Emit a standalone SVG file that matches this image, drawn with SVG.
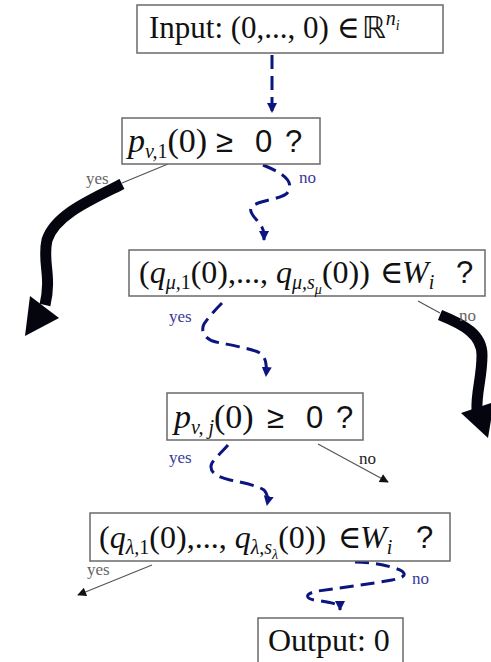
<svg xmlns="http://www.w3.org/2000/svg" width="491" height="662" viewBox="0 0 491 662">
<defs>
<style>
.box{fill:#fff;stroke:#6a6a6a;stroke-width:1.5}
.t{font-family:"Liberation Serif","DejaVu Serif",serif;fill:#111}
.s{font-family:"Liberation Sans","DejaVu Sans",sans-serif}
.i{font-style:italic}
.dash{fill:none;stroke:#0b1580;stroke-width:3;stroke-dasharray:14 7;stroke-linecap:butt}
.thin{fill:none;stroke:#555;stroke-width:1.2}
.thick{fill:none;stroke:#05050f;stroke-width:11;stroke-linecap:butt}
.lblb{font-family:"Liberation Serif",serif;font-size:17px;fill:#3a3a9a}
.lblg{font-family:"Liberation Serif",serif;font-size:17px;fill:#666}
.lblk{font-family:"Liberation Serif",serif;font-size:17px;fill:#222}
</style>
<marker id="an" viewBox="0 0 10 10" refX="9" refY="5" markerWidth="10" markerHeight="10" markerUnits="userSpaceOnUse" orient="auto">
<path d="M0,0 L10,5 L0,10 Z" fill="#0b1580"/>
</marker>
<marker id="ak" viewBox="0 0 10 10" refX="9" refY="5" markerWidth="10" markerHeight="9" markerUnits="userSpaceOnUse" orient="auto">
<path d="M0,0 L10,5 L0,10 Z" fill="#111"/>
</marker>
</defs>

<g id="connectors">
<path class="dash" d="M272,55 L272,112" marker-end="url(#an)"/>
<path class="dash" d="M263,165 C280,172 295,180 288,192 C283,200 255,200 251,208 C248,216 264,222 264,235 L264,240" marker-end="url(#an)"/>
<line class="thin" x1="168" y1="164" x2="122" y2="183"/>
<path class="thick" d="M122,184 C90,200 55,215 47,240 C42,262 52,275 45,305"/>
<polygon points="30,296 59,318 25,336" fill="#05050f"/>
<path class="dash" d="M222,303 C215,310 208,318 204,324 C200,332 206,340 216,342 C230,345 248,348 258,352 C266,356 267,364 266,376" marker-end="url(#an)"/>
<line class="thin" x1="418" y1="301" x2="440" y2="313"/>
<path class="thick" d="M440,315 C465,325 482,335 482,355 C482,378 476,392 477,410"/>
<polygon points="461,413 494,402 488,438" fill="#05050f"/>
<path class="dash" d="M228,445 C222,452 215,458 212,463 C208,471 216,477 230,480 C245,483 258,486 264,490 C268,494 268,500 267,505" marker-end="url(#an)"/>
<line class="thin" x1="318" y1="444" x2="388" y2="482" stroke="#223" marker-end="url(#ak)"/>
<path class="dash" d="M355,562 C372,562 390,566 400,570 C408,574 404,578 392,580 C370,584 340,588 318,591 C306,593 304,598 314,600 C328,602 338,603 340,608 L340,610" marker-end="url(#an)"/>
<line class="thin" x1="152" y1="565" x2="78" y2="595" marker-end="url(#ak)"/>
</g>

<g id="labels">
<text class="lblg" x="86" y="184">yes</text>
<text class="lblb" x="299" y="183">no</text>
<text class="lblb" x="169" y="322">yes</text>
<text class="lblg" x="459" y="321">no</text>
<text class="lblb" x="169" y="463">yes</text>
<text class="lblk" x="359" y="464">no</text>
<text class="lblg" x="87" y="575">yes</text>
<text class="lblb" x="412" y="584">no</text>
</g>

<g id="input">
<rect class="box" x="137" y="5" width="306" height="48"/>
<text class="t" x="149" y="38" font-size="31">Input: (0,..., 0) <tspan x="337">∈</tspan><tspan x="362" font-family="DejaVu Sans" font-size="30">ℝ</tspan><tspan class="i" font-size="20" dy="-13">n</tspan><tspan class="i" font-size="14" dy="5">i</tspan></text>
</g>

<g id="test-p1">
<rect class="box" x="122" y="118" width="198" height="46"/>
<text class="t" x="128" y="152" font-size="34"><tspan class="i">p</tspan><tspan class="i" font-size="20" dy="6">v,</tspan><tspan font-size="20">1</tspan><tspan dy="-6">(0)</tspan><tspan class="s" font-size="31" x="216">≥</tspan><tspan class="s" font-size="31" x="255">0</tspan><tspan class="s" font-size="31" x="285">?</tspan></text>
</g>

<g id="test-qmu">
<rect class="box" x="129" y="250" width="356" height="46"/>
<text class="t" x="139" y="283" font-size="32">(<tspan class="i">q</tspan><tspan class="i" font-size="20" dy="6">μ,</tspan><tspan font-size="20">1</tspan><tspan dy="-6">(0),..., </tspan><tspan class="i">q</tspan><tspan class="i" font-size="20" dy="6">μ,s</tspan><tspan class="i" font-size="14" dy="5">μ</tspan><tspan dy="-11">(0))</tspan><tspan x="380">∈</tspan><tspan class="i" x="402">W</tspan><tspan class="i" font-size="20" dy="6">i</tspan><tspan class="s" font-size="31" dy="-6" x="456">?</tspan></text>
</g>

<g id="test-pj">
<rect class="box" x="167" y="393" width="196" height="47"/>
<text class="t" x="174" y="428" font-size="34"><tspan class="i">p</tspan><tspan class="i" font-size="20" dy="6">v, j</tspan><tspan dy="-6">(0)</tspan><tspan class="s" font-size="31" x="267">≥</tspan><tspan class="s" font-size="31" x="306">0</tspan><tspan class="s" font-size="31" x="336">?</tspan></text>
</g>

<g id="test-qlambda">
<rect class="box" x="90" y="513" width="360" height="48"/>
<text class="t" x="99" y="548" font-size="32">(<tspan class="i">q</tspan><tspan class="i" font-size="20" dy="6">λ,</tspan><tspan font-size="20">1</tspan><tspan dy="-6">(0),..., </tspan><tspan class="i">q</tspan><tspan class="i" font-size="20" dy="6">λ,s</tspan><tspan class="i" font-size="14" dy="5">λ</tspan><tspan dy="-11">(0))</tspan><tspan x="338">∈</tspan><tspan class="i" x="360">W</tspan><tspan class="i" font-size="20" dy="6">i</tspan><tspan class="s" font-size="31" dy="-6" x="416">?</tspan></text>
</g>

<g id="output">
<rect class="box" x="258" y="618" width="145" height="50"/>
<text class="t" x="268" y="651" font-size="32">Output: 0</text>
</g>
</svg>
